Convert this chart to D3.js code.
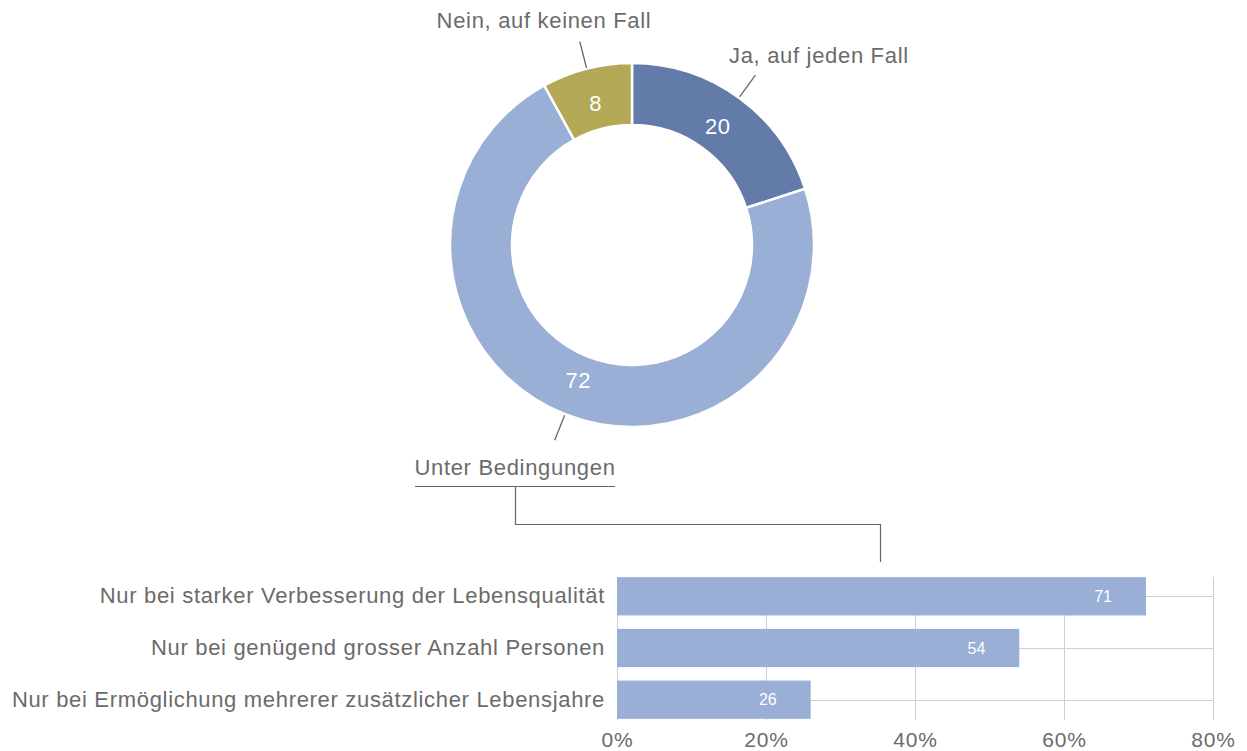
<!DOCTYPE html>
<html>
<head>
<meta charset="utf-8">
<script src="https://cdn.jsdelivr.net/npm/d3@7"></script>
<style>
  html, body { margin: 0; padding: 0; background: #fff; }
  svg { display: block; font-family: "Liberation Sans", Arial, Helvetica, sans-serif; }
</style>
</head>
<body>
<svg id="chart" width="1247" height="751"></svg>
<script>
// Donut: overall answer
const answerLabels = ["Ja, auf jeden Fall", "Unter Bedingungen", "Nein, auf keinen Fall"];
const answerValues = [20, 72, 8];
const answerColors = ["#637ba8", "#9aafd6", "#b3a855"];

// Bars: breakdown of "Unter Bedingungen"
const conditionLabels = [
  "Nur bei starker Verbesserung der Lebensqualität",
  "Nur bei genügend grosser Anzahl Personen",
  "Nur bei Ermöglichung mehrerer zusätzlicher Lebensjahre"
];
const conditionValues = [71, 54, 26];
const tickValues = [0, 20, 40, 60, 80];

const textColor = "#6b6b6b";
const labelSize = 22;
const labelSpacing = 0.68;
const svg = d3.select("#chart");

// ---- Donut ----
const cx = 632, cy = 245, outerR = 182, innerR = 120;
const g = svg.append("g").attr("transform", `translate(${cx},${cy})`);

const pie = d3.pie().sort(null).value(d => d);
const arcs = pie(answerValues);
const arc = d3.arc().innerRadius(innerR).outerRadius(outerR);
const labelArc = d3.arc().innerRadius(146).outerRadius(146);

g.selectAll("path.slice")
  .data(arcs)
  .join("path")
  .attr("class", "slice")
  .attr("d", arc)
  .attr("fill", (d, i) => answerColors[i])
  .attr("stroke", "#fff")
  .attr("stroke-width", 2.5);

g.selectAll("text.value")
  .data(arcs)
  .join("text")
  .attr("class", "value")
  .attr("x", d => labelArc.centroid(d)[0])
  .attr("y", d => labelArc.centroid(d)[1])
  .attr("text-anchor", "middle")
  .attr("dominant-baseline", "central")
  .attr("fill", "#fff")
  .attr("font-size", 22)
  .attr("letter-spacing", 0.5)
  .text(d => d.data);

// leader lines from the ring outward along each slice's middle angle
const midAngle = d => (d.startAngle + d.endAngle) / 2;
const polar = (r, a) => [r * Math.sin(a), -r * Math.cos(a)];
g.selectAll("line.leader")
  .data(arcs)
  .join("line")
  .attr("class", "leader")
  .attr("x1", d => polar(outerR + 1, midAngle(d))[0])
  .attr("y1", d => polar(outerR + 1, midAngle(d))[1])
  .attr("x2", d => polar(outerR + 28, midAngle(d))[0])
  .attr("y2", d => polar(outerR + 28, midAngle(d))[1])
  .attr("stroke", "#666")
  .attr("stroke-width", 1.3);

// slice names
const namePos = [
  { x: 729, y: 63, anchor: "start" },
  { x: 515, y: 475, anchor: "middle" },
  { x: 544, y: 28, anchor: "middle" }
];
svg.selectAll("text.name")
  .data(answerLabels)
  .join("text")
  .attr("class", "name")
  .attr("x", (d, i) => namePos[i].x)
  .attr("y", (d, i) => namePos[i].y)
  .attr("text-anchor", (d, i) => namePos[i].anchor)
  .attr("fill", textColor)
  .attr("font-size", labelSize)
  .attr("letter-spacing", labelSpacing)
  .text(d => d);

// underline + connector from "Unter Bedingungen" to the bar chart
svg.append("line")
  .attr("x1", 415).attr("x2", 615).attr("y1", 486.5).attr("y2", 486.5)
  .attr("stroke", "#666").attr("stroke-width", 1.2);
svg.append("path")
  .attr("d", "M515.5,486.5 V524.5 H880.5 V562")
  .attr("fill", "none")
  .attr("stroke", "#666")
  .attr("stroke-width", 1.2);

// ---- Bars ----
const bx0 = 617, bx1 = 1213, by0 = 572, by1 = 724;
const x = d3.scaleLinear().domain([0, 80]).range([bx0, bx1]);
const y = d3.scaleBand().domain(conditionLabels).range([by0, by1]).paddingInner(0.26).paddingOuter(0.1);

const grid = svg.append("g");
grid.selectAll("line.v")
  .data(tickValues)
  .join("line")
  .attr("x1", d => x(d) + 0.5).attr("x2", d => x(d) + 0.5)
  .attr("y1", 577).attr("y2", 720)
  .attr("stroke", "#d0d0d0").attr("stroke-width", 1);
grid.selectAll("line.h")
  .data(conditionLabels)
  .join("line")
  .attr("x1", bx0).attr("x2", bx1)
  .attr("y1", d => Math.round(y(d) + y.bandwidth() / 2) + 0.5)
  .attr("y2", d => Math.round(y(d) + y.bandwidth() / 2) + 0.5)
  .attr("stroke", "#d0d0d0").attr("stroke-width", 1);

svg.selectAll("rect.bar")
  .data(conditionValues)
  .join("rect")
  .attr("class", "bar")
  .attr("x", x(0))
  .attr("y", (d, i) => y(conditionLabels[i]))
  .attr("width", d => x(d) - x(0))
  .attr("height", y.bandwidth())
  .attr("fill", "#9aafd6");

svg.selectAll("text.barval")
  .data(conditionValues)
  .join("text")
  .attr("class", "barval")
  .attr("x", d => x(d) - 34)
  .attr("y", (d, i) => y(conditionLabels[i]) + y.bandwidth() / 2)
  .attr("text-anchor", "end")
  .attr("dominant-baseline", "central")
  .attr("fill", "#fff")
  .attr("font-size", 16)
  .text(d => d);

// category axis
const yAxis = d3.axisLeft(y).tickSize(0).tickPadding(12);
const yG = svg.append("g").attr("transform", `translate(${bx0},0)`).call(yAxis);
yG.select(".domain").remove();
yG.selectAll("text")
  .attr("fill", textColor)
  .attr("font-size", labelSize)
  .attr("letter-spacing", labelSpacing)
  .attr("font-family", null);

// value axis
const xAxis = d3.axisBottom(x).tickValues(tickValues).tickFormat(d => d + "%").tickSize(0).tickPadding(8);
const xG = svg.append("g").attr("transform", `translate(0,${by1})`).call(xAxis);
xG.select(".domain").remove();
xG.selectAll("text")
  .attr("fill", textColor)
  .attr("font-size", 21)
  .attr("letter-spacing", 0.8)
  .attr("font-family", null);
</script>
</body>
</html>
